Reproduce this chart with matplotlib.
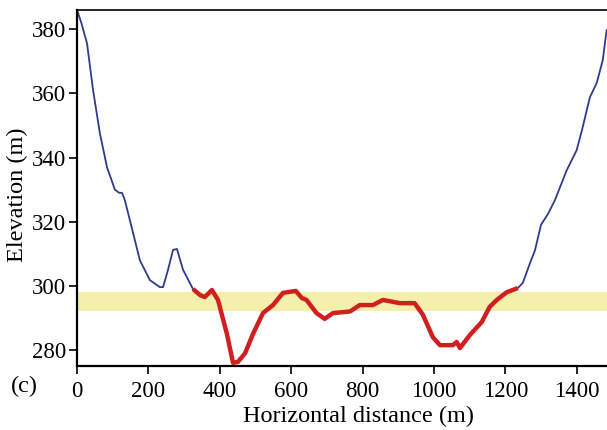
import matplotlib.pyplot as plt

plt.rcParams['font.family'] = ['Liberation Serif', 'DejaVu Serif']

# Perfil do terreno
dist_left = [0, 12, 28, 45, 64, 84, 106, 118, 126, 134, 148, 176, 204, 232, 241, 255, 269, 280, 297, 325]
elev_left = [386, 382, 375.6, 361, 347.6, 337, 330, 329, 329, 326.7, 320.5, 308, 301.8, 299.6, 299.6, 305, 311.2, 311.5, 305, 299]

dist_red = [325, 345, 358, 378, 395, 420, 437, 451, 471, 493, 521, 549, 577, 594, 613,
            630, 643, 658, 671, 694, 717, 765, 792, 829, 857, 905, 946, 969, 997, 1017,
            1053, 1064, 1073, 1101, 1134, 1156, 1176, 1204, 1235]
elev_red = [299, 297.1, 296.5, 298.7, 295.6, 285, 276, 276.3, 279, 285, 291.5, 294, 297.8, 298.1, 298.4,
            296.2, 295.6, 293.4, 291.5, 289.7, 291.5, 292, 294, 294, 295.6, 294.6, 294.6, 291, 284, 281.5,
            281.5, 282.5, 280.6, 284.7, 288.7, 293.4, 295.6, 298, 299.3]

dist_right = [1235, 1249, 1269, 1283, 1300, 1320, 1339, 1372, 1400, 1417, 1437, 1456, 1473, 1484]
elev_right = [299.3, 300.9, 307, 311, 319, 322.5, 326.7, 336, 342.3, 349.5, 358.8, 363.2, 370.3, 379.7]

band_low, band_high = 292, 298

x_ticks = [0, 200, 400, 600, 800, 1000, 1200, 1400]
y_ticks = [280, 300, 320, 340, 360, 380]

fig = plt.figure(figsize=(6.07, 4.30), dpi=100)
ax = fig.add_axes([0.1269, 0.1488, 0.8731, 0.8279])

ax.axhspan(band_low, band_high, color='#f4efaa', lw=0, zorder=1)
ax.plot(dist_left, elev_left, color='#323a8c', lw=1.3, zorder=2)
ax.plot(dist_right, elev_right, color='#323a8c', lw=1.3, zorder=2)
ax.plot(dist_red, elev_red, color='#d11f1f', lw=3.2, solid_capstyle='butt', zorder=3)

ax.set_xlim(0, 1485)
ax.set_ylim(275, 386)
ax.set_xticks(x_ticks)
ax.set_yticks(y_ticks)
ax.tick_params(direction='out', length=6, width=1.2, labelsize=16.5, colors='black')
ax.tick_params(axis='x', pad=5)
ax.tick_params(axis='y', pad=2)
ax.spines['right'].set_visible(False)
for s in ['left', 'bottom']:
    ax.spines[s].set_linewidth(1.6)
ax.spines['top'].set_linewidth(1.2)

ax.set_xlabel('Horizontal distance (m)', fontsize=17.5)
ax.set_ylabel('Elevation (m)', fontsize=17.5)
ax.xaxis.set_label_coords(0.532, -0.112)
ax.yaxis.set_label_coords(-0.092, 0.48)
fig.text(0.018, 0.088, '(c)', fontsize=17.5)

fig.savefig('out.png', dpi=100)
